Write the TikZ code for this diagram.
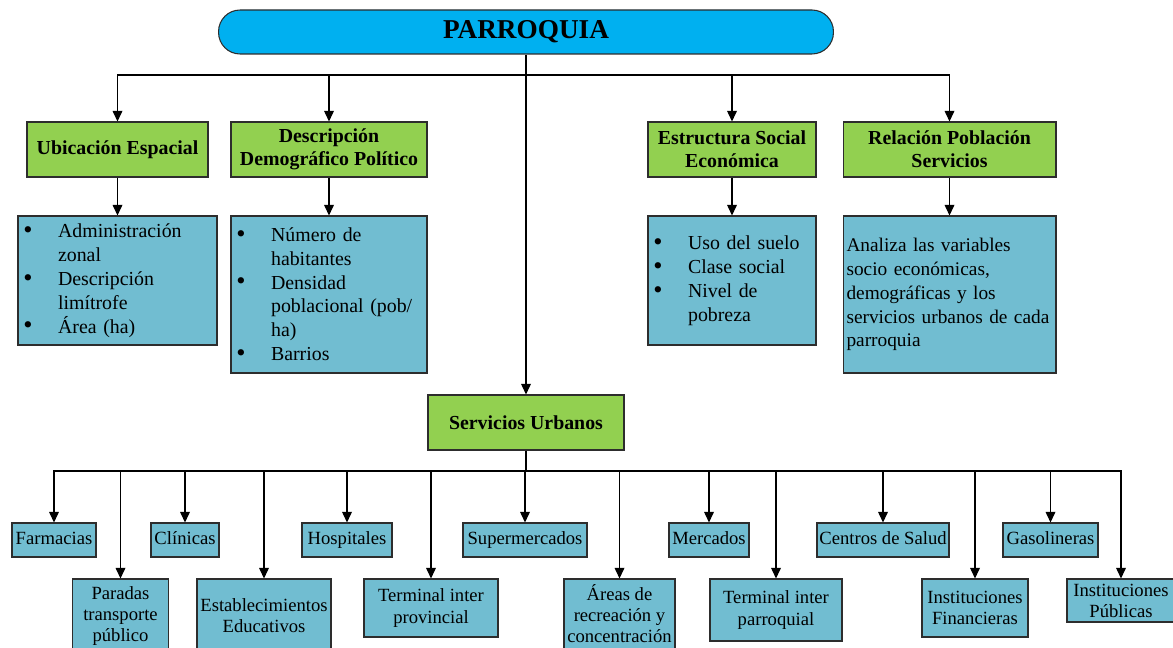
\documentclass[tikz,border=0pt]{standalone}
\usepackage{fontspec}
\setmainfont{Liberation Serif}
\usepackage{tikz}
\usetikzlibrary{arrows.meta, positioning}
\definecolor{topcyan}{RGB}{0, 176, 240}
\definecolor{catgreen}{RGB}{146, 208, 80}
\definecolor{infoblue}{RGB}{113, 189, 209}
\definecolor{darkline}{RGB}{45, 45, 45}
\newcommand{\bul}[1]{\makebox[19.8pt][l]{\raisebox{-0.5pt}{\fontsize{15}{15}\selectfont\textbullet}}#1}
\newcommand{\cont}[1]{\hspace*{19.8pt}#1}

\begin{document}
\begin{tikzpicture}[
    x=0.02cm, y=-0.02cm,
    topBox/.style={draw=darkline, fill=topcyan, rounded corners=0.43cm, line width=0.6pt, font=\fontsize{15.5}{18}\selectfont\bfseries},
    greenBox/.style={draw=darkline, fill=catgreen, line width=0.6pt, minimum height=1.1cm, align=center, inner sep=2pt, font=\fontsize{11.3}{13}\selectfont\bfseries},
    infoBox/.style={draw=darkline, fill=infoblue, line width=0.6pt, align=left, inner xsep=3pt, inner ysep=2pt, font=\fontsize{11.3}{13.6}\selectfont},
    leafBox/.style={draw=darkline, fill=infoblue, line width=0.6pt, align=center, inner sep=1pt, font=\fontsize{10.6}{12}\selectfont},
    edge/.style={draw=black, line width=0.7pt, -{Triangle[length=6pt, width=5.5pt]}},
    stem/.style={draw=black, line width=1.1pt}
]
\useasboundingbox (0,0) rectangle (1173,648);

% Top: Parroquia
\node[topBox, minimum width=12.3cm, minimum height=0.88cm] (parroquia) at (526, 32) {PARROQUIA};
\coordinate (top) at (526, 75);

% Second level
\node[greenBox, minimum width=3.62cm] (ubic) at (117.5, 149.5) {Ubicación Espacial};
\node[greenBox, minimum width=3.92cm] (demo) at (329, 149.5) {Descripción\\Demográfico Político};
\node[greenBox, minimum width=3.36cm] (social) at (732, 149.5) {Estructura Social\\Económica};
\node[greenBox, minimum width=4.26cm] (relac) at (949.5, 149.5) {Relación Población\\Servicios};

% Detail boxes
\node[infoBox, text width=3.98cm-6pt, minimum height=2.58cm] (ubicInfo) at (117.5, 280.5) {
    \bul{Administración}\\ \cont{zonal}\\ \bul{Descripción}\\ \cont{limítrofe}\\ \bul{Área (ha)}};
\node[infoBox, text width=3.92cm-6pt, minimum height=3.14cm] (demoInfo) at (329, 294.5) {
    \bul{Número de}\\ \cont{habitantes}\\ \bul{Densidad}\\ \cont{poblacional (pob/}\\ \cont{ha)}\\ \bul{Barrios}};
\node[infoBox, text width=3.36cm-6pt, minimum height=2.58cm] (socialInfo) at (732, 280.5) {
    \bul{Uso del suelo}\\ \bul{Clase social}\\ \bul{Nivel de}\\ \cont{pobreza}};
\node[infoBox, inner xsep=2pt, text width=4.26cm-4pt, minimum height=3.14cm, font=\fontsize{11}{13.6}\selectfont] (relacInfo) at (949.5, 294.5) {
    Analiza las variables\\ socio económicas,\\ demográficas y los\\ \mbox{servicios urbanos de cada}\\ parroquia};

% Servicios urbanos
\node[greenBox, minimum width=3.92cm] (serv) at (526, 422.5) {Servicios Urbanos};
\coordinate (bus) at (526, 471);

% Bottom row 1
\node[leafBox, minimum width=1.68cm, minimum height=0.68cm] (farm) at (54, 540) {Farmacias\vphantom{Hp}};
\node[leafBox, minimum width=1.36cm, minimum height=0.68cm] (clin) at (185, 540) {Clínicas\vphantom{Hp}};
\node[leafBox, minimum width=1.8cm, minimum height=0.68cm] (hosp) at (347, 540) {Hospitales\vphantom{Hp}};
\node[leafBox, minimum width=2.48cm, minimum height=0.68cm] (super) at (525, 540) {Supermercados\vphantom{Hp}};
\node[leafBox, minimum width=1.6cm, minimum height=0.68cm] (merc) at (709, 540) {Mercados\vphantom{Hp}};
\node[leafBox, minimum width=2.64cm, minimum height=0.68cm] (salud) at (883, 540) {Centros de Salud\vphantom{Hp}};
\node[leafBox, minimum width=1.9cm, minimum height=0.68cm] (gaso) at (1050.5, 540) {Gasolineras\vphantom{Hp}};

% Bottom row 2
\node[leafBox, minimum width=1.92cm, minimum height=1.48cm] (parad) at (120.5, 616) {Paradas\\transporte\\público};
\node[leafBox, minimum width=2.68cm, minimum height=1.46cm] (educ) at (264, 615.5) {Establecimientos\\Educativos};
\node[leafBox, minimum width=2.68cm, minimum height=1.16cm] (tprov) at (431, 608) {Terminal inter\\provincial};
\node[leafBox, minimum width=2.22cm, minimum height=1.4cm] (areas) at (619.5, 614) {Áreas de\\recreación y\\concentración};
\node[leafBox, minimum width=2.64cm, minimum height=1.24cm] (tparr) at (776, 610) {Terminal inter\\parroquial};
\node[leafBox, minimum width=2.12cm, minimum height=1.16cm] (financ) at (975, 608) {Instituciones\\Financieras};
\node[leafBox, minimum width=2.16cm, minimum height=0.86cm] (public) at (1121, 600.5) {Instituciones\\Públicas};

% Connectors
\draw[stem] (parroquia) -- (top);
\draw[edge] (top) -| (ubic);
\draw[edge] (top) -| (demo);
\draw[edge] (top) -| (social);
\draw[edge] (top) -| (relac);
\draw[edge] (top) -- (serv);
\draw[edge] (ubic) -- (ubicInfo);
\draw[edge] (demo) -- (demoInfo);
\draw[edge] (social) -- (socialInfo);
\draw[edge] (relac) -- (relacInfo);

\draw[stem] (serv) -- (bus);
\foreach \leaf in {farm, clin, hosp, super, merc, salud, gaso, parad, educ, tprov, areas, tparr, financ, public}
    \draw[edge] (bus) -| (\leaf);

\end{tikzpicture}
\end{document}
